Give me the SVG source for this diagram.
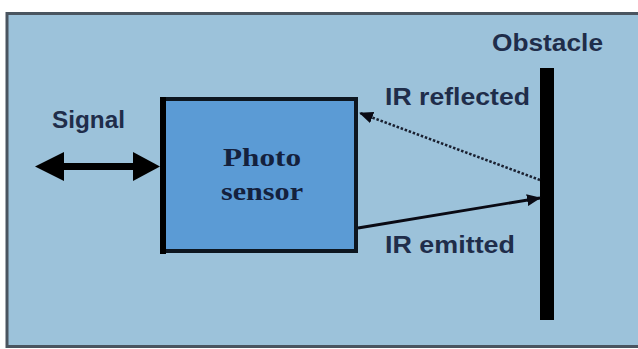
<svg xmlns="http://www.w3.org/2000/svg" width="638" height="349" viewBox="0 0 638 349">
<style>
.lbl{font-family:"Liberation Sans",Arial,sans-serif;font-weight:bold;font-size:23px;fill:#1f2d4a}
.ser{font-family:"Liberation Serif","Times New Roman",serif;font-weight:bold;font-size:26px;fill:#14213d}
</style>
<defs>
<marker id="ah2" markerWidth="14" markerHeight="12" refX="13" refY="6" orient="auto" markerUnits="userSpaceOnUse" viewBox="0 0 14 12">
<path d="M0,0 L14,6 L0,12 Z" fill="#0a0a14"/>
</marker>
</defs>
<rect x="0" y="0" width="638" height="349" fill="#ffffff"/>
<rect x="7" y="13.5" width="640" height="333" fill="#9cc2da" stroke="#4a5560" stroke-width="3"/>
<g id="obstacle">
<rect x="540" y="68" width="14" height="252" fill="#000"/>
<text class="lbl" x="492" y="51" textLength="111" lengthAdjust="spacingAndGlyphs">Obstacle</text>
</g>
<g id="photo-sensor">
<rect x="162" y="99" width="194" height="152" fill="#5b9bd5" stroke="#0d1620" stroke-width="4"/>
<rect x="160" y="97" width="6" height="157" fill="#000"/>
<text class="ser" x="262" y="166" text-anchor="middle" textLength="78" lengthAdjust="spacingAndGlyphs">Photo</text>
<text class="ser" x="262" y="200" text-anchor="middle" textLength="82" lengthAdjust="spacingAndGlyphs">sensor</text>
</g>
<g id="signal">
<text class="lbl" x="52" y="128" textLength="73" lengthAdjust="spacingAndGlyphs">Signal</text>
</g>
<g id="connectors">
<line x1="60" y1="166.5" x2="136" y2="166.5" stroke="#000" stroke-width="7"/>
<path d="M35,166.5 L64,152 L64,181 Z" fill="#000"/>
<path d="M160,166.5 L133,152 L133,181 Z" fill="#000"/>
<line x1="540" y1="180" x2="360" y2="113" stroke="#1a2030" stroke-width="2.6" stroke-dasharray="2.5,1.8" marker-end="url(#ah2)"/>
<line x1="358" y1="228" x2="540" y2="198" stroke="#0a0a14" stroke-width="2.8" marker-end="url(#ah2)"/>
</g>
<text class="lbl" x="385" y="105" textLength="145" lengthAdjust="spacingAndGlyphs">IR reflected</text>
<text class="lbl" x="385" y="253" textLength="130" lengthAdjust="spacingAndGlyphs">IR emitted</text>
</svg>
